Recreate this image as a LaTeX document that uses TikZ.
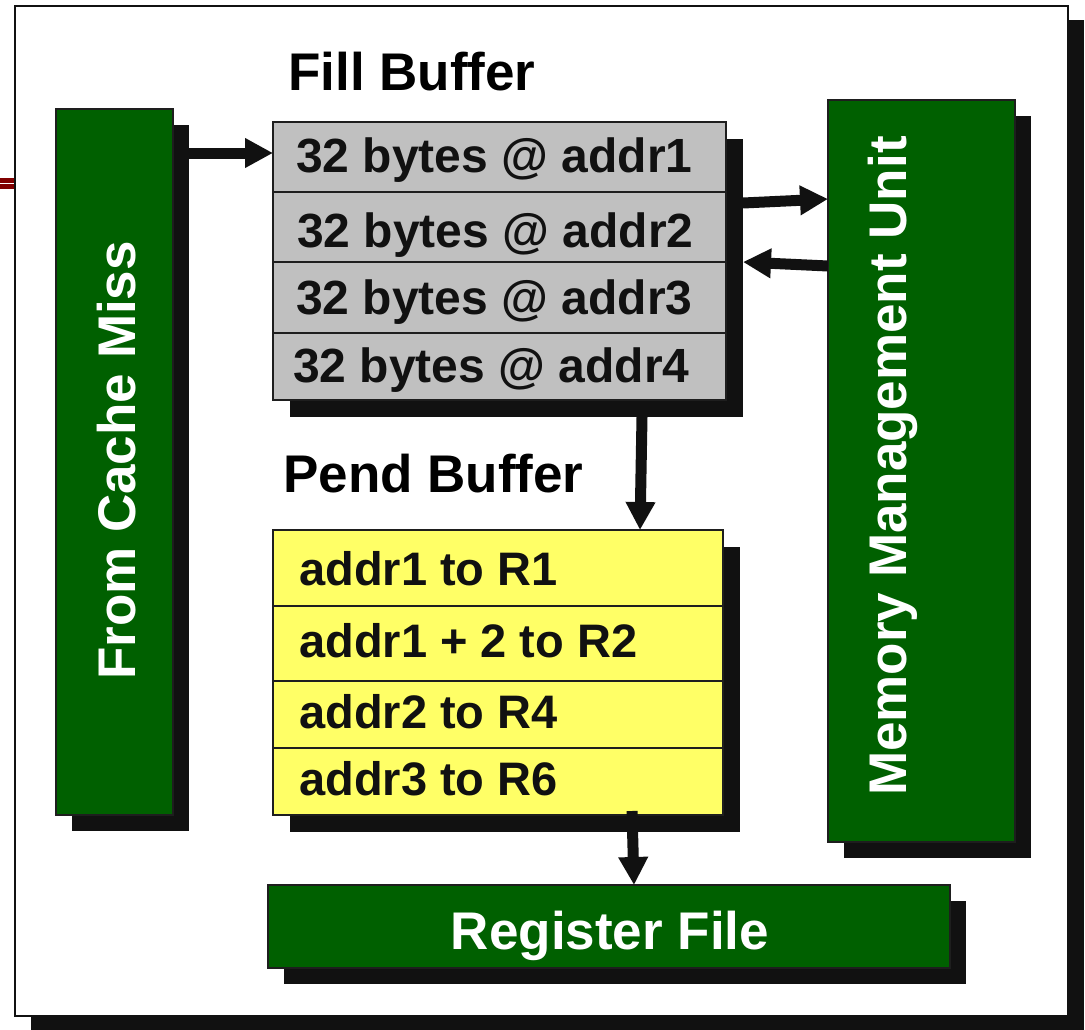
\documentclass[tikz,border=0pt]{standalone}
\usepackage{fontspec}
\setmainfont{Liberation Sans}
\usetikzlibrary{arrows.meta,calc,shadows}
\definecolor{boxgreen}{RGB}{0,96,0}
\definecolor{shadowc}{RGB}{17,17,17}
\definecolor{fillgray}{RGB}{192,192,192}
\definecolor{pendyellow}{RGB}{255,255,102}
\definecolor{edgec}{RGB}{30,30,30}
\definecolor{stubred}{RGB}{128,0,0}
\tikzset{
  box/.style={draw=edgec, line width=2pt, inner sep=0pt, outer sep=0pt},
  shad/.style={drop shadow={shadow xshift=#1, shadow yshift=-#1, fill=shadowc, opacity=1}},
  unit/.style={box, fill=boxgreen, shad=16pt},
  rowg/.style={box, fill=fillgray},
  rowy/.style={box, fill=pendyellow},
  bigtxt/.style={inner sep=0pt, font=\fontsize{53}{60}\selectfont\bfseries},
  unittxt/.style={bigtxt, text=white},
  rowtxt/.style={inner sep=0pt, anchor=base west, text=shadowc, font=\fontsize{#1}{56}\selectfont\bfseries},
  arr/.style={draw=shadowc, line width=11pt, -{Triangle[length=28pt,width=28pt]}, shorten >=0pt}
}
\begin{document}
\begin{tikzpicture}[x=1pt,y=-1pt]
\useasboundingbox (0,0) rectangle (1085,1029);

% stub of a line entering from the left margin
\fill[stubred] (0,178) rectangle (16,189);
\draw[white, line width=1pt] (0,183.5) -- (16,183.5);

% outer frame
\node[box, fill=white, draw=shadowc, line width=2.5pt, minimum width=1053pt, minimum height=1010pt,
      drop shadow={shadow xshift=16pt, shadow yshift=-14pt, fill=shadowc, opacity=1}]
      (frame) at (541.5,511) {};

% side units
\node[unit, minimum width=117pt, minimum height=706pt] (cache) at (114.5,462) {};
\node[unittxt, rotate=90, anchor=base] (cachetxt) at (135,460.5) {From Cache Miss};

\node[unit, minimum width=187pt, minimum height=742pt] (mmu) at (921.5,471) {};
\node[unittxt, rotate=90, anchor=base] (mmutxt) at (906,466) {Memory Management Unit};

\node[unit, minimum width=682pt, minimum height=83pt] (reg) at (609,926.5) {};
\node[unittxt, anchor=base] (regtxt) at (610,949) {Register File};

% fill buffer
\node[bigtxt, anchor=base west] (filltitle) at (288,90) {Fill Buffer};
\node[rowg, shad=17pt, minimum width=453pt, minimum height=278pt] (fillbuf) at (499.5,261) {};
\node[rowg, minimum width=453pt, minimum height=70pt] (f1) at (499.5,157) {};
\node[rowg, minimum width=453pt, minimum height=70pt] (f2) at (499.5,227) {};
\node[rowg, minimum width=453pt, minimum height=71pt] (f3) at (499.5,297.5) {};
\node[rowg, minimum width=453pt, minimum height=67pt] (f4) at (499.5,366.5) {};
\node[rowtxt=48] (t1) at (296,172) {32 bytes @ addr1};
\node[rowtxt=48] (t2) at (297,247) {32 bytes @ addr2};
\node[rowtxt=48] (t3) at (296,314) {32 bytes @ addr3};
\node[rowtxt=48] (t4) at (293,382) {32 bytes @ addr4};

% pend buffer
\node[bigtxt, anchor=base west] (pendtitle) at (283,492) {Pend Buffer};
\node[rowy, shad=17pt, minimum width=450pt, minimum height=285pt] (pendbuf) at (498,672.5) {};
\node[rowy, minimum width=450pt, minimum height=76pt] (p1) at (498,568) {};
\node[rowy, minimum width=450pt, minimum height=75pt] (p2) at (498,643.5) {};
\node[rowy, minimum width=450pt, minimum height=67pt] (p3) at (498,714.5) {};
\node[rowy, minimum width=450pt, minimum height=67pt] (p4) at (498,781.5) {};
\node[rowtxt=47] (q1) at (299,585) {addr1 to R1};
\node[rowtxt=47] (q2) at (299,657) {addr1 + 2 to R2};
\node[rowtxt=47] (q3) at (299,728) {addr2 to R4};
\node[rowtxt=47] (q4) at (299,795) {addr3 to R6};

% data paths
\draw[arr] ($(cache.north east)+(16,44)$) -- ($(f1.north west)+(0,31)$);
\draw[arr] ($(f2.north east)+(17,11)$) -- ($(mmu.west |- f2.north east)+(0,7)$);
\draw[arr] ($(mmu.west |- f3.north east)+(0,4)$) -- ($(f3.north east)+(17,0)$);
\draw[arr] ($(f4.south west)+(369,17)$) -- ($(p1.north west)+(367,0)$);
\draw[arr] ($(p4.south west)+(359,-4)$) -- ($(reg.north west)+(366,0)$);
\end{tikzpicture}
\end{document}
